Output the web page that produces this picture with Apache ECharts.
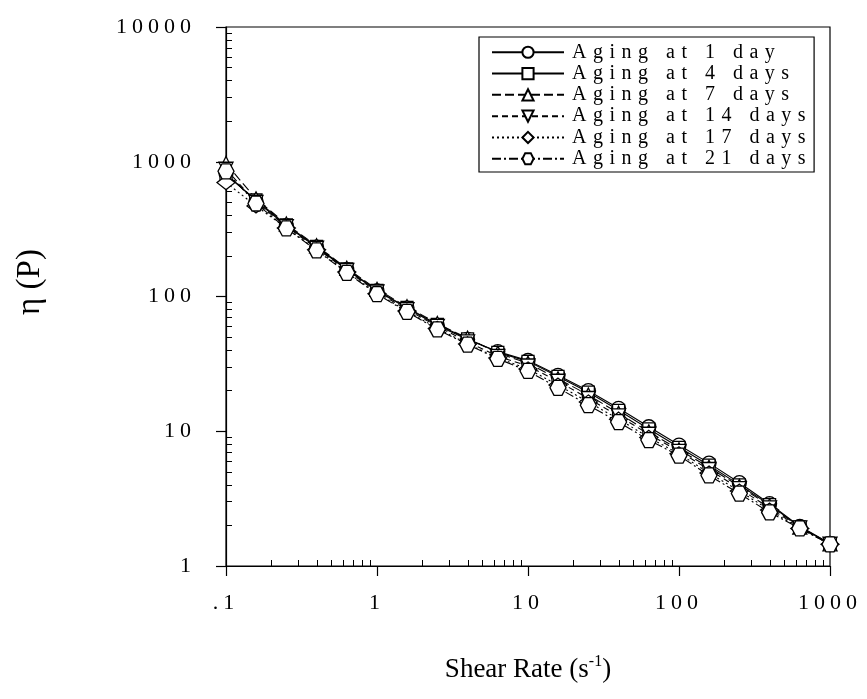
<!DOCTYPE html>
<html>
<head>
<meta charset="utf-8">
<script src="https://cdn.jsdelivr.net/npm/echarts@6/dist/echarts.min.js"></script>
<style>
html,body{margin:0;padding:0;background:#fff;}
#chart{width:867px;height:699px;}
</style>
</head>
<body>
<div id="chart"></div>
<script>
// ---- data ----
const shearRate = [0.1, 0.158, 0.251, 0.398, 0.631, 1, 1.58, 2.51, 3.98, 6.31, 10, 15.8, 25.1, 39.8, 63.1, 100, 158, 251, 398, 631, 1000];
const seriesNames = ['Aging at 1 day', 'Aging at 4 days', 'Aging at 7 days', 'Aging at 14 days', 'Aging at 17 days', 'Aging at 21 days'];
const day1  = [820, 510, 335, 232, 158, 110, 82, 61, 48, 39, 33.5, 26, 20, 14.8, 10.8, 7.9, 5.8, 4.15, 2.9, 1.97, 1.47];
const day4  = [800, 520, 340, 235, 160, 111, 83, 62, 48.5, 38.5, 33, 25.5, 19.5, 14.3, 10.4, 7.6, 5.6, 4.0, 2.85, 1.95, 1.46];
const day7  = [970, 530, 345, 238, 162, 113, 84, 63, 49, 38, 32, 24.5, 18.6, 13.6, 9.9, 7.3, 5.4, 3.9, 2.8, 1.94, 1.46];
const day14 = [880, 500, 330, 228, 156, 108, 80, 60, 46, 36, 30.5, 23.5, 17.5, 13, 9.5, 7.1, 5.2, 3.75, 2.7, 1.92, 1.45];
const day17 = [700, 470, 322, 222, 152, 105, 78, 58, 44.5, 35, 29, 22, 16.5, 12.3, 9.0, 6.8, 4.9, 3.6, 2.6, 1.9, 1.45];
const day21 = [850, 490, 320, 220, 150, 104, 77, 57, 44, 34.5, 28, 21, 15.6, 11.7, 8.6, 6.6, 4.7, 3.45, 2.5, 1.9, 1.45];
const xMajorTicks = [0.1, 1, 10, 100, 1000];
const xMinorTicks = [0.2,0.3,0.4,0.5,0.6,0.7,0.8,0.9, 2,3,4,5,6,7,8,9, 20,30,40,50,60,70,80,90, 200,300,400,500,600,700,800,900];
const yMajorTicks = [1, 10, 100, 1000, 10000];
const yMinorTicks = [2,3,4,5,6,7,8,9, 20,30,40,50,60,70,80,90, 200,300,400,500,600,700,800,900, 2000,3000,4000,5000,6000,7000,8000,9000];

// ---- letter spacing for the widely tracked labels ----
(function(){
  const P = CanvasRenderingContext2D.prototype;
  if (!('letterSpacing' in P)) return;
  const spacing = {'20': 6.5, '22': 5};
  function apply(ctx){
    const m = /(\d+)px/.exec(ctx.font);
    const s = m && spacing[m[1]];
    ctx.letterSpacing = (s || 0) + 'px';
  }
  const f = P.fillText; P.fillText = function(){ apply(this); return f.apply(this, arguments); };
  const s = P.strokeText; P.strokeText = function(){ apply(this); return s.apply(this, arguments); };
  const m = P.measureText; P.measureText = function(){ apply(this); return m.apply(this, arguments); };
})();

const FONT = 'Liberation Serif';
const pair = arr => shearRate.map((x, i) => [x, arr[i]]);
const hexagon = 'path://M-1,0L-0.5,-0.866L0.5,-0.866L1,0L0.5,0.866L-0.5,0.866Z';
const diamond = 'path://M0,-1L1,0L0,1L-1,0Z';

const styles = [
  {data: day1,  symbol: 'circle',   size: 14, type: 'solid'},
  {data: day4,  symbol: 'rect',     size: 12, type: 'solid'},
  {data: day7,  symbol: 'triangle', size: 14, type: [9, 4]},
  {data: day14, symbol: 'triangle', size: 14, type: [6, 4], rotate: 180},
  {data: day17, symbol: diamond,    size: [18, 14], type: [2, 3]},
  {data: day21, symbol: hexagon,    size: [16, 15], type: [9, 3, 2, 3]}
];

const series = styles.map((s, k) => ({
  name: seriesNames[k],
  type: 'line',
  xAxisIndex: 0, yAxisIndex: 0,
  data: pair(s.data),
  symbol: s.symbol,
  symbolSize: s.size,
  symbolRotate: s.rotate || 0,
  showAllSymbol: true,
  clip: false,
  lineStyle: {color: '#000', width: 1.1, type: s.type},
  itemStyle: {color: '#fff', borderColor: '#000', borderWidth: 1.3},
  emphasis: {disabled: true},
  animation: false
}));

const chart = echarts.init(document.getElementById('chart'), null, {renderer: 'canvas'});
chart.setOption({
  backgroundColor: '#fff',
  animation: false,
  grid: {left: 226, right: 37, top: 27, bottom: 133, show: true, borderColor: '#000', borderWidth: 1.2, outerBoundsMode: 'none', containLabel: false},
  legend: {
    data: seriesNames,
    orient: 'vertical', left: 479, top: 37,
    itemWidth: 72, itemHeight: 14, itemGap: -5.2,
    padding: [2, 2, 0, 12],
    borderColor: '#000', borderWidth: 1.2, backgroundColor: '#fff',
    textStyle: {fontFamily: FONT, fontSize: 20, lineHeight: 20, color: '#000', padding: [0, 0, 0, 3]},
    selectedMode: false
  },
  xAxis: [
    {
      type: 'log', logBase: 10, min: 0.1, max: 1000, position: 'bottom',
      name: '{a|Shear Rate (s}{b|-1}{a|)}',
      nameLocation: 'middle', nameGap: 88,
      nameTextStyle: {rich: {
        a: {fontFamily: FONT, fontSize: 27, color: '#000', lineHeight: 32},
        b: {fontFamily: FONT, fontSize: 16, color: '#000', verticalAlign: 'top', lineHeight: 32, padding: [0, 0, 12, 0]}
      }},
      axisLine: {show: true, lineStyle: {color: '#000', width: 1.2}},
      axisTick: {show: true, inside: false, length: 10, customValues: xMajorTicks, lineStyle: {color: '#000', width: 1.2}},
      axisLabel: {show: true, customValues: xMajorTicks, margin: 24, fontFamily: FONT, fontSize: 22, color: '#000',
        formatter: v => (Math.abs(v - 0.1) < 1e-9 ? '.1' : String(Math.round(v)))},
      splitLine: {show: false}
    },
    {
      type: 'log', logBase: 10, min: 0.1, max: 1000, position: 'bottom',
      axisLine: {show: false},
      axisTick: {show: true, inside: true, length: 6, customValues: xMinorTicks, lineStyle: {color: '#000', width: 1}},
      axisLabel: {show: false},
      splitLine: {show: false}
    }
  ],
  yAxis: [
    {
      type: 'log', logBase: 10, min: 1, max: 10000, position: 'left',
      axisLine: {show: true, lineStyle: {color: '#000', width: 1.2}},
      axisTick: {show: true, inside: false, length: 10, customValues: yMajorTicks, lineStyle: {color: '#000', width: 1.2}},
      axisLabel: {show: true, customValues: yMajorTicks, margin: 30, fontFamily: FONT, fontSize: 22, color: '#000',
        formatter: v => String(Math.round(v))},
      splitLine: {show: false}
    },
    {
      type: 'log', logBase: 10, min: 1, max: 10000, position: 'left',
      axisLine: {show: false},
      axisTick: {show: true, inside: true, length: 6, customValues: yMinorTicks, lineStyle: {color: '#000', width: 1}},
      axisLabel: {show: false},
      splitLine: {show: false}
    }
  ],
  graphic: [{
    type: 'text', x: 30, y: 282, rotation: Math.PI / 2,
    style: {text: 'η (P)', font: '33px "Liberation Serif"', fill: '#000', align: 'center', verticalAlign: 'middle'}
  }],
  series: series
});
</script>
</body>
</html>
